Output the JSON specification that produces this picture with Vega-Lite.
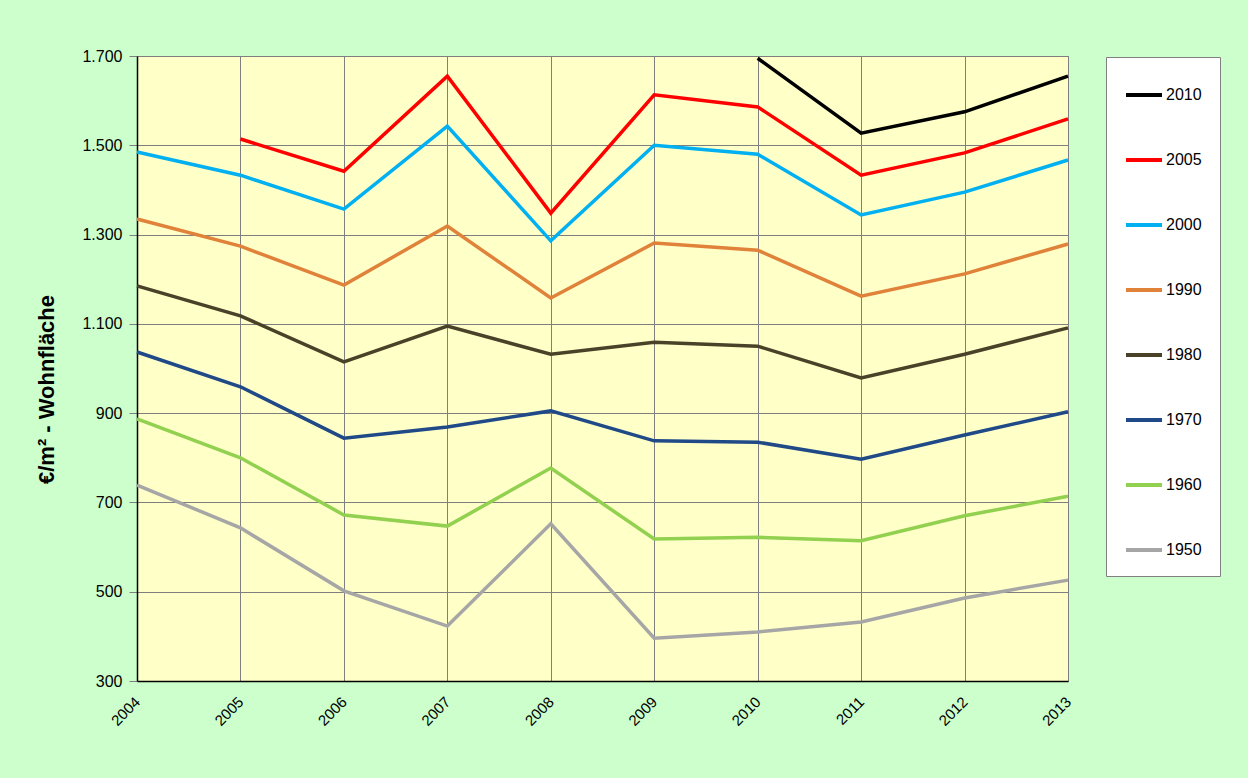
{
  "$schema": "https://vega.github.io/schema/vega-lite/v6.json",
  "autosize": "none",
  "width": 931,
  "height": 625,
  "padding": {"left": 137, "top": 56, "right": 180, "bottom": 97},
  "background": "#CCFFCC",
  "config": {
    "locale": {"number": {"decimal": ",", "thousands": ".", "grouping": [3], "currency": ["", " €"]}},
    "font": "Liberation Sans",
    "view": {"fill": "#FFFFC8", "stroke": "#808080", "strokeWidth": 1}
  },
  "data": {
    "values": [
      {"Jahr": 2010, "Baujahr": "2010", "Preis": 1695},
      {"Jahr": 2011, "Baujahr": "2010", "Preis": 1527},
      {"Jahr": 2012, "Baujahr": "2010", "Preis": 1575},
      {"Jahr": 2013, "Baujahr": "2010", "Preis": 1655},

      {"Jahr": 2005, "Baujahr": "2005", "Preis": 1514},
      {"Jahr": 2006, "Baujahr": "2005", "Preis": 1442},
      {"Jahr": 2007, "Baujahr": "2005", "Preis": 1655},
      {"Jahr": 2008, "Baujahr": "2005", "Preis": 1348},
      {"Jahr": 2009, "Baujahr": "2005", "Preis": 1613},
      {"Jahr": 2010, "Baujahr": "2005", "Preis": 1586},
      {"Jahr": 2011, "Baujahr": "2005", "Preis": 1433},
      {"Jahr": 2012, "Baujahr": "2005", "Preis": 1483},
      {"Jahr": 2013, "Baujahr": "2005", "Preis": 1559},

      {"Jahr": 2004, "Baujahr": "2000", "Preis": 1485},
      {"Jahr": 2005, "Baujahr": "2000", "Preis": 1433},
      {"Jahr": 2006, "Baujahr": "2000", "Preis": 1357},
      {"Jahr": 2007, "Baujahr": "2000", "Preis": 1543},
      {"Jahr": 2008, "Baujahr": "2000", "Preis": 1286},
      {"Jahr": 2009, "Baujahr": "2000", "Preis": 1500},
      {"Jahr": 2010, "Baujahr": "2000", "Preis": 1480},
      {"Jahr": 2011, "Baujahr": "2000", "Preis": 1344},
      {"Jahr": 2012, "Baujahr": "2000", "Preis": 1395},
      {"Jahr": 2013, "Baujahr": "2000", "Preis": 1467},

      {"Jahr": 2004, "Baujahr": "1990", "Preis": 1335},
      {"Jahr": 2005, "Baujahr": "1990", "Preis": 1274},
      {"Jahr": 2006, "Baujahr": "1990", "Preis": 1187},
      {"Jahr": 2007, "Baujahr": "1990", "Preis": 1319},
      {"Jahr": 2008, "Baujahr": "1990", "Preis": 1158},
      {"Jahr": 2009, "Baujahr": "1990", "Preis": 1281},
      {"Jahr": 2010, "Baujahr": "1990", "Preis": 1265},
      {"Jahr": 2011, "Baujahr": "1990", "Preis": 1162},
      {"Jahr": 2012, "Baujahr": "1990", "Preis": 1212},
      {"Jahr": 2013, "Baujahr": "1990", "Preis": 1279},

      {"Jahr": 2004, "Baujahr": "1980", "Preis": 1185},
      {"Jahr": 2005, "Baujahr": "1980", "Preis": 1118},
      {"Jahr": 2006, "Baujahr": "1980", "Preis": 1015},
      {"Jahr": 2007, "Baujahr": "1980", "Preis": 1095},
      {"Jahr": 2008, "Baujahr": "1980", "Preis": 1032},
      {"Jahr": 2009, "Baujahr": "1980", "Preis": 1059},
      {"Jahr": 2010, "Baujahr": "1980", "Preis": 1050},
      {"Jahr": 2011, "Baujahr": "1980", "Preis": 979},
      {"Jahr": 2012, "Baujahr": "1980", "Preis": 1032},
      {"Jahr": 2013, "Baujahr": "1980", "Preis": 1091},

      {"Jahr": 2004, "Baujahr": "1970", "Preis": 1037},
      {"Jahr": 2005, "Baujahr": "1970", "Preis": 959},
      {"Jahr": 2006, "Baujahr": "1970", "Preis": 844},
      {"Jahr": 2007, "Baujahr": "1970", "Preis": 869},
      {"Jahr": 2008, "Baujahr": "1970", "Preis": 905},
      {"Jahr": 2009, "Baujahr": "1970", "Preis": 838},
      {"Jahr": 2010, "Baujahr": "1970", "Preis": 835},
      {"Jahr": 2011, "Baujahr": "1970", "Preis": 797},
      {"Jahr": 2012, "Baujahr": "1970", "Preis": 851},
      {"Jahr": 2013, "Baujahr": "1970", "Preis": 903},

      {"Jahr": 2004, "Baujahr": "1960", "Preis": 887},
      {"Jahr": 2005, "Baujahr": "1960", "Preis": 800},
      {"Jahr": 2006, "Baujahr": "1960", "Preis": 672},
      {"Jahr": 2007, "Baujahr": "1960", "Preis": 647},
      {"Jahr": 2008, "Baujahr": "1960", "Preis": 777},
      {"Jahr": 2009, "Baujahr": "1960", "Preis": 618},
      {"Jahr": 2010, "Baujahr": "1960", "Preis": 622},
      {"Jahr": 2011, "Baujahr": "1960", "Preis": 614},
      {"Jahr": 2012, "Baujahr": "1960", "Preis": 670},
      {"Jahr": 2013, "Baujahr": "1960", "Preis": 714},

      {"Jahr": 2004, "Baujahr": "1950", "Preis": 739},
      {"Jahr": 2005, "Baujahr": "1950", "Preis": 643},
      {"Jahr": 2006, "Baujahr": "1950", "Preis": 502},
      {"Jahr": 2007, "Baujahr": "1950", "Preis": 423},
      {"Jahr": 2008, "Baujahr": "1950", "Preis": 652},
      {"Jahr": 2009, "Baujahr": "1950", "Preis": 396},
      {"Jahr": 2010, "Baujahr": "1950", "Preis": 410},
      {"Jahr": 2011, "Baujahr": "1950", "Preis": 432},
      {"Jahr": 2012, "Baujahr": "1950", "Preis": 486},
      {"Jahr": 2013, "Baujahr": "1950", "Preis": 526}
    ]
  },
  "mark": {"type": "line", "strokeWidth": 3.5, "strokeJoin": "miter"},
  "encoding": {
    "x": {
      "field": "Jahr",
      "type": "quantitative",
      "scale": {"domain": [2004, 2013], "nice": false, "zero": false},
      "axis": {
        "values": [2004, 2005, 2006, 2007, 2008, 2009, 2010, 2011, 2012, 2013],
        "format": "d",
        "title": null,
        "grid": true,
        "gridColor": "#7f7f7f",
        "gridOpacity": 1,
        "gridWidth": 1,
        "domainColor": "#000000",
        "domainWidth": 1.5,
        "ticks": false,
        "labelAngle": 315,
        "labelAlign": "right",
        "labelBaseline": "middle",
        "labelPadding": 18,
        "labelFontSize": 15,
        "labelColor": "#000000",
        "labelFlush": false,
        "labelOverlap": false
      }
    },
    "y": {
      "field": "Preis",
      "type": "quantitative",
      "scale": {"domain": [300, 1700], "nice": false, "zero": false},
      "axis": {
        "values": [300, 500, 700, 900, 1100, 1300, 1500, 1700],
        "format": ",d",
        "title": "€/m² - Wohnfläche",
        "titleFontSize": 22,
        "titleFontWeight": "bold",
        "titleColor": "#000000",
        "titleAngle": 270,
        "titleX": -91,
        "titleY": 333,
        "titleAlign": "center",
        "titleBaseline": "middle",
        "grid": true,
        "gridColor": "#7f7f7f",
        "gridOpacity": 1,
        "gridWidth": 1,
        "domainColor": "#000000",
        "domainWidth": 1.5,
        "ticks": true,
        "tickSize": 8,
        "tickColor": "#7f7f7f",
        "labelPadding": 7,
        "labelFontSize": 16,
        "labelColor": "#000000",
        "labelFlush": false
      }
    },
    "color": {
      "field": "Baujahr",
      "type": "nominal",
      "scale": {
        "domain": ["2010", "2005", "2000", "1990", "1980", "1970", "1960", "1950"],
        "range": ["#000000", "#FF0000", "#00B0F0", "#E0823A", "#4A4228", "#1F4A87", "#92D050", "#A6A6A6"]
      },
      "legend": {
        "orient": "none",
        "legendX": 969,
        "legendY": 1,
        "title": null,
        "symbolType": "stroke",
        "symbolSize": 1296,
        "symbolStrokeWidth": 4,
        "labelFontSize": 16,
        "labelColor": "#000000",
        "labelOffset": 2,
        "rowPadding": 37,
        "padding": 18,
        "fillColor": "#FFFFFF",
        "strokeColor": "#808080"
      }
    }
  }
}
